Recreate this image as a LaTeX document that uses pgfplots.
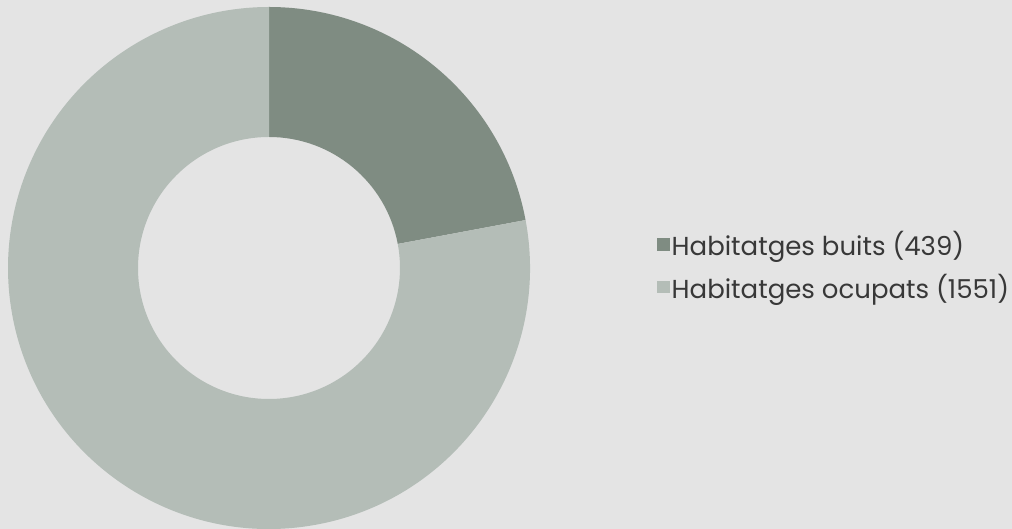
\documentclass[border=0pt]{standalone}
\usepackage{pgfplots}
\pgfplotsset{compat=1.18}
\usetikzlibrary{calc}
\usepackage{fontspec}
\setmainfont{Poppins}
\definecolor{bg}{HTML}{E4E4E4}
\definecolor{darkg}{HTML}{7F8C82}
\definecolor{lightg}{HTML}{B4BDB7}
\definecolor{txt}{HTML}{383838}
\begin{document}
\begin{tikzpicture}
% data
\def\vA{439}
\def\vB{1551}
\pgfmathsetmacro{\tot}{\vA+\vB}
\pgfmathsetmacro{\aA}{90-360*(\vA/\tot)}
\def\cx{269}\def\cy{261}\def\Ro{261}\def\Ri{131}
\begin{axis}[
  width=1012pt, height=529pt, scale only axis,
  xmin=0, xmax=1012, ymin=0, ymax=529,
  axis lines=none, clip=false,
  axis background/.style={fill=bg},
  legend style={at={(axis cs:657,263)}, anchor=west, draw=none, fill=none,
    font=\fontsize{26}{30}\selectfont\color{txt}, row sep=17pt,
    legend cell align=left, inner sep=0pt,
    nodes={inner xsep=2pt, inner ysep=0pt}},
  legend image code/.code={\fill[#1,draw=none] (0pt,-6pt) rectangle (12.5pt,6.5pt);},
]
\addlegendimage{fill=darkg}
\addlegendentry{Habitatges buits (439)}
\addlegendimage{fill=lightg}
\addlegendentry{Habitatges ocupats (1551)}
\fill[darkg] (axis cs:\cx,\cy) ++(90:\Ro) arc[start angle=90, end angle=\aA, radius=\Ro]
  -- ($(axis cs:\cx,\cy)+(\aA:\Ri)$) arc[start angle=\aA, end angle=90, radius=\Ri] -- cycle;
\fill[lightg] (axis cs:\cx,\cy) ++(\aA:\Ro) arc[start angle=\aA, end angle=-270, radius=\Ro]
  -- ($(axis cs:\cx,\cy)+(-270:\Ri)$) arc[start angle=-270, end angle=\aA, radius=\Ri] -- cycle;
\end{axis}
\pgfresetboundingbox
\path[use as bounding box] (0,0) rectangle (1012pt,529pt);
\end{tikzpicture}
\end{document}
